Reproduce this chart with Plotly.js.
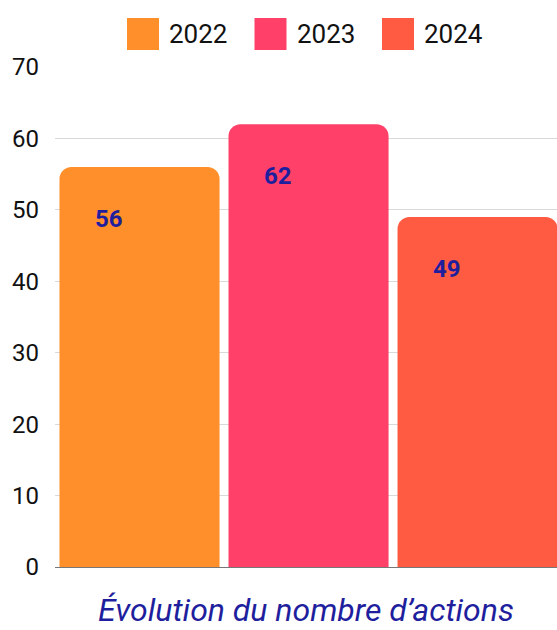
<!DOCTYPE html>
<html>
<head>
<meta charset="utf-8">
<script src="https://cdn.plot.ly/plotly-3.0.1.min.js"></script>
<style>html,body{margin:0;padding:0;background:#fff;}#chart{width:557px;height:630px;}</style>
</head>
<body>
<div id="chart"></div>
<script>
const years = ['2022', '2023', '2024'];
const values = [56, 62, 49];
const colors = ['#FF8F2A', '#FF4069', '#FF5B42'];
const yTicks = [0, 10, 20, 30, 40, 50, 60, 70];
const xTitle = 'Évolution du nombre d’actions';

const L = 55, R = 557, T = 67, B = 567;
const px = x => (x - L) / (R - L);
const py = y => (B - y) / (B - T);

const traces = years.map((yr, i) => ({
  type: 'bar',
  name: yr,
  x: [yr],
  y: [values[i]],
  marker: { color: colors[i], cornerradius: 12 },
  showlegend: false,
  hoverinfo: 'skip'
}));

const annotations = years.map((yr, i) => ({
  x: i, y: values[i], xref: 'x', yref: 'y',
  text: '<b>' + values[i] + '</b>',
  showarrow: false, xanchor: 'center', yanchor: 'middle',
  xshift: -31, yshift: -52,
  font: { family: 'Roboto', size: 24, color: '#1F1F9E' }
}));

const shapes = [];
years.forEach((yr, i) => {
  const x0 = 127 + i * 127.5;
  shapes.push({ type: 'rect', xref: 'paper', yref: 'paper',
    x0: px(x0), x1: px(x0 + 32), y0: py(50), y1: py(18),
    fillcolor: colors[i], line: { width: 0 } });
  annotations.push({ xref: 'paper', yref: 'paper', x: px(x0 + 40), y: py(34),
    text: yr, showarrow: false, xanchor: 'left', yanchor: 'middle',
    font: { family: 'Roboto', size: 26, color: '#111' } });
});

const layout = {
  width: 557, height: 630,
  margin: { l: L, r: 557 - R, t: T, b: 630 - B, pad: 0 },
  paper_bgcolor: '#fff', plot_bgcolor: '#fff',
  barmode: 'overlay',
  bargap: 0.053,
  showlegend: false,
  font: { family: 'Roboto', color: '#111' },
  xaxis: {
    type: 'category', range: [-0.5, 2.47],
    showticklabels: false, showgrid: false, zeroline: false, showline: false,
    ticks: '', automargin: false,
    title: { text: xTitle, standoff: 31,
      font: { family: 'Roboto', size: 32, color: '#1F1F9E', style: 'italic' } }
  },
  yaxis: {
    range: [0, 70], tickvals: yTicks, ticktext: yTicks.map(String),
    showgrid: true, gridcolor: '#D9D9D9', gridwidth: 1,
    zeroline: true, zerolinecolor: '#777', zerolinewidth: 1,
    showline: false, ticks: '', automargin: false,
    ticklabelstandoff: 15,
    tickfont: { family: 'Roboto', size: 24, color: '#111' }
  },
  shapes: shapes,
  annotations: annotations
};

Plotly.newPlot('chart', traces, layout, { displayModeBar: false, staticPlot: true });
</script>
</body>
</html>
